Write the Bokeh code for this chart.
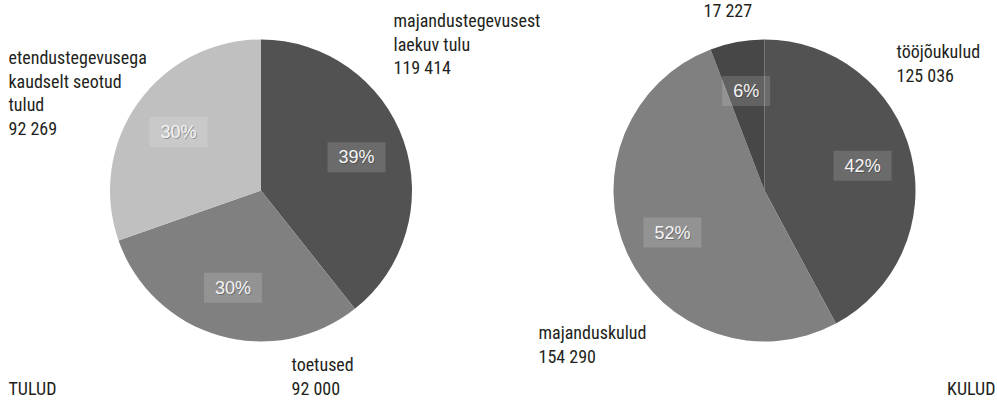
import numpy as np
from bokeh.plotting import figure
from bokeh.models import ColumnDataSource, Range1d
from bokeh.core.properties import value
from bokeh.embed import file_html
from bokeh.resources import INLINE

# ---- data ----
tulud_names = ["majandustegevusest laekuv tulu", "toetused", "etendustegevusega kaudselt seotud tulud"]
tulud_values = [119414, 92000, 92269]
tulud_colors = ["#525252", "#808080", "#c0c0c0"]

kulud_names = ["tööjõukulud", "majanduskulud", "muud kulud"]
kulud_values = [125036, 154290, 17227]
kulud_colors = ["#525252", "#808080", "#474747"]

# label text lines (name lines + formatted value)
tulud_label_lines = [["majandustegevusest", "laekuv tulu", "119 414"],
                     ["toetused", "92 000"],
                     ["etendustegevusega", "kaudselt seotud", "tulud", "92 269"]]
kulud_label_lines = [["tööjõukulud", "125 036"],
                     ["majanduskulud", "154 290"],
                     ["17 227"]]

# ---- layout ----
W, H = 997, 400
R = 151
LBL_R = 0.67 * R
FONT = "'Roboto Condensed', 'Liberation Sans Narrow', Roboto, sans-serif"
FSIZE = "18px"
PFONT = "'Liberation Sans', Arial, sans-serif"
TEXT_SHIFT = -7  # baseline correction, px

# screen -> data helpers (y up)
def sx(x):
    return x
def sy(y):
    return H - (y + TEXT_SHIFT)

left_center = (260.5, H - 190)
right_center = (764, H - 190)

# anchor (left x, first baseline) of each outer label, screen px
tulud_anchor = [(393, 27), (291, 371), (8, 64)]
kulud_anchor = [(896, 58), (538, 339), (703, 17)]
LINE_H = 23.6

p = figure(width=W, height=H, output_backend="svg", toolbar_location=None,
           x_range=Range1d(0, W), y_range=Range1d(0, H),
           x_axis_type=None, y_axis_type=None, min_border=0,
           outline_line_color=None, background_fill_color="white")
p.grid.visible = False


def draw_pie(center, values, colors, lines, anchors):
    vals = np.array(values, dtype=float)
    frac = vals / vals.sum()
    cum_end = np.cumsum(frac)
    cum_start = cum_end - frac
    start = np.pi / 2 - 2 * np.pi * cum_start
    end = np.pi / 2 - 2 * np.pi * cum_end
    mid = (start + end) / 2
    src = ColumnDataSource(dict(x=[center[0]] * len(vals), y=[center[1]] * len(vals),
                                start=start, end=end, color=colors))
    p.wedge(x="x", y="y", radius=R, radius_units="screen", start_angle="start",
            end_angle="end", direction="clock", fill_color="color",
            line_color=None, source=src)
    pct = ["%d%%" % round(f * 100) for f in frac]
    lx = center[0] + LBL_R * np.cos(mid)
    ly = center[1] + LBL_R * np.sin(mid)
    # soft shadow
    p.text(x=lx + 1, y=ly - 1, text=pct, text_align="center", text_baseline="middle",
           text_font=value(PFONT), text_font_size="18px", text_color="#000000",
           text_alpha=0.35)
    p.text(x=lx, y=ly, text=pct, text_align="center", text_baseline="middle",
           text_font=value(PFONT), text_font_size="18px", text_color="#f4f4f4",
           background_fill_color="#ffffff", background_fill_alpha=0.15,
           padding=(11, 5))
    tx, ty, tt = [], [], []
    for ls, (ax, ay) in zip(lines, anchors):
        for i, t in enumerate(ls):
            tx.append(sx(ax))
            ty.append(sy(ay + i * LINE_H))
            tt.append(t)
    p.text(x=tx, y=ty, text=tt, text_align="left", text_baseline="alphabetic",
           text_font=value(FONT), text_font_size=FSIZE, text_color="#231f20")


draw_pie(left_center, tulud_values, tulud_colors, tulud_label_lines, tulud_anchor)
draw_pie(right_center, kulud_values, kulud_colors, kulud_label_lines, kulud_anchor)

# section titles
p.text(x=[sx(8)], y=[sy(395)], text=["TULUD"], text_align="left", text_baseline="alphabetic",
       text_font=value(FONT), text_font_size=FSIZE, text_color="#231f20")
p.text(x=[sx(995)], y=[sy(395)], text=["KULUD"], text_align="right", text_baseline="alphabetic",
       text_font=value(FONT), text_font_size=FSIZE, text_color="#231f20")

open("out.html", "w").write(file_html(p, INLINE))
